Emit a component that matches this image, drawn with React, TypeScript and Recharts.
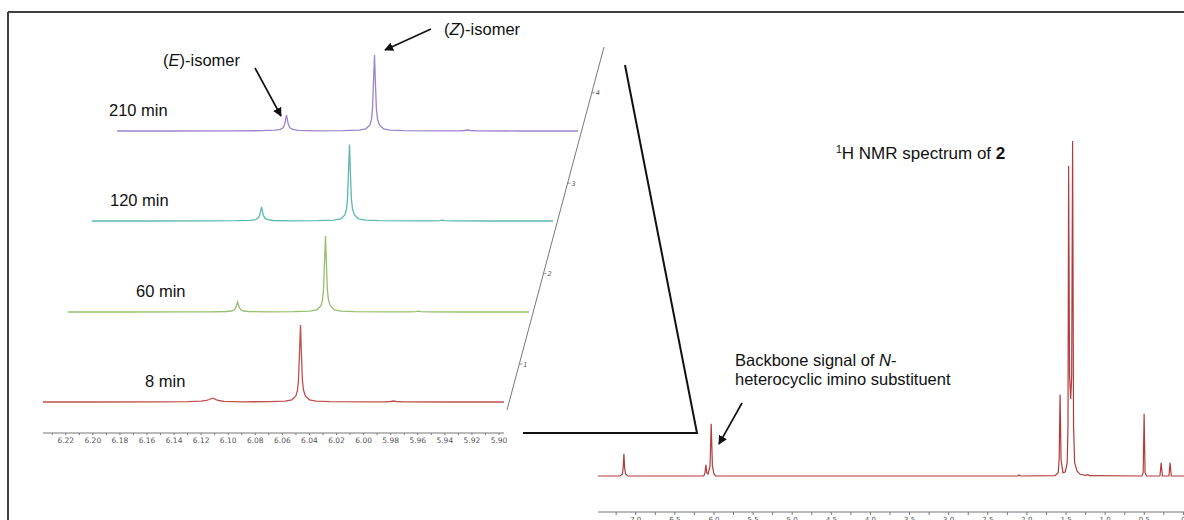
import React from 'react';
import { LineChart, Line, XAxis, YAxis } from 'recharts';

// ---- Zoomed stacked spectra (ppm grid shared by all four traces) ----
const shiftPpm = [
  6.2368, 6.2, 6.15, 6.13, 6.12, 6.116, 6.114, 6.113, 6.1123, 6.1116, 6.1109, 6.1102, 6.109, 6.107, 6.103,
  6.09, 6.07, 6.058, 6.053, 6.05, 6.0488, 6.0481, 6.0474, 6.0466, 6.0459, 6.0452, 6.0444, 6.043, 6.04,
  6.035, 6.025, 6.0, 5.985, 5.98, 5.978, 5.976, 5.97, 5.94, 5.8963,
];
const int8min = [
  0, 0, 0.1, 0.3, 0.8, 1.6, 2.5, 3.1, 3.5, 3.8, 3.5, 3.1, 2.4, 1.5, 0.6,
  0.2, 0.3, 0.8, 2.2, 6, 12, 22, 47, 77, 47, 22, 12, 6, 2.2,
  0.8, 0.3, 0.1, 0.1, 0.5, 1, 0.5, 0.1, 0, 0,
];
const int60min = [
  0, 0, 0.1, 0.2, 0.5, 1, 2.2, 4, 7, 10, 7, 4, 2, 1, 0.4,
  0.1, 0.3, 0.8, 2.2, 6, 12, 22, 47, 76, 47, 22, 12, 6, 2.2,
  0.8, 0.3, 0.1, 0.1, 0.4, 0.8, 0.4, 0.1, 0, 0,
];
const int120min = [
  0, 0, 0.1, 0.3, 0.7, 1.4, 3.1, 5.6, 9.8, 14, 9.8, 5.6, 2.8, 1.4, 0.5,
  0.2, 0.3, 0.8, 2.2, 6, 12, 22, 47, 76.5, 47, 22, 12, 6, 2.2,
  0.8, 0.3, 0.1, 0.1, 0.4, 0.8, 0.4, 0.1, 0, 0,
];
const int210min = [
  0, 0, 0.1, 0.3, 0.8, 1.6, 3.5, 6.4, 11, 16, 11, 6.4, 3.2, 1.6, 0.6,
  0.2, 0.3, 0.8, 2.2, 6, 12, 22, 47, 76, 47, 22, 12, 6, 2.2,
  0.8, 0.3, 0.1, 0.1, 0.5, 1, 0.5, 0.1, 0, 0,
];
const traceLabels = ['8 min', '60 min', '120 min', '210 min'];
const traceLabelX = [145, 136, 110, 109];
const traceColors = ['#c0504d', '#94bf6e', '#5bb8b2', '#9c84cc'];
const stackTickLabels = ['1', '2', '3', '4'];
const zoomTicks = [
  6.23, 6.22, 6.21, 6.2, 6.19, 6.18, 6.17, 6.16, 6.15, 6.14, 6.13, 6.12, 6.11, 6.1, 6.09, 6.08, 6.07,
  6.06, 6.05, 6.04, 6.03, 6.02, 6.01, 6.0, 5.99, 5.98, 5.97, 5.96, 5.95, 5.94, 5.93, 5.92, 5.91, 5.9,
];

// ---- Full 1H NMR spectrum ----
const fullPpm = [
  7.482, 7.2, 7.17, 7.16, 7.151, 7.142, 7.13, 7.1,
  6.13, 6.115, 6.103, 6.092, 6.075, 6.05, 6.035, 6.02, 6.0, 5.98,
  2.12, 2.1, 2.08,
  1.64, 1.6, 1.588, 1.576, 1.564, 1.54, 1.51, 1.485, 1.475, 1.467, 1.455, 1.44, 1.428, 1.416, 1.404, 1.39, 1.36, 1.32, 1.25, 1.22, 1.2,
  0.53, 0.514, 0.502, 0.49, 0.47,
  0.3, 0.284, 0.268,
  0.185, 0.17, 0.155,
  -0.34,
];
const fullInt = [
  0, 0, 0.6, 2.5, 6.6, 2.5, 0.6, 0,
  0, 1, 3.3, 1, 0.6, 3, 15.6, 3, 0.6, 0,
  0, 0.3, 0,
  0.1, 1, 5, 24.3, 5, 1, 1.2, 4, 15, 92.5, 30, 23, 30, 100, 15, 4, 1.5, 0.5, 0.2, 0.4, 0.1,
  0, 1, 18.6, 1, 0,
  0, 3.9, 0,
  0, 3.9, 0,
  0,
];
const fullTicks = [
  7.25, 7.0, 6.75, 6.5, 6.25, 6.0, 5.75, 5.5, 5.25, 5.0, 4.75, 4.5, 4.25, 4.0, 3.75, 3.5, 3.25, 3.0,
  2.75, 2.5, 2.25, 2.0, 1.75, 1.5, 1.25, 1.0, 0.75, 0.5, 0.25, 0.0, -0.25,
];

const traceIntensities = [int8min, int60min, int120min, int210min];
const traceData = traceIntensities.map((arr) => shiftPpm.map((p, i) => ({ ppm: p, v: arr[i] })));
const fullData = fullPpm.map((p, i) => ({ ppm: p, v: fullInt[i] }));

const ZOOM_DOMAIN: [number, number] = [5.8963, 6.2368];
const FULL_DOMAIN: [number, number] = [-0.34, 7.482];

const FONT = '"Liberation Sans", Arial, sans-serif';
const TICK_FONT = '"DejaVu Sans", Verdana, sans-serif';
const LABEL_SIZE = 16.5;

const STACK_DX = 24.6;
const STACK_DY = 90.4;
const BASE_LEFT = 43;
const BASE_Y = 402;

export default function App() {
  const axisStart = { x: 507, y: 410 };
  const axisEnd = { x: 604, y: 47 };
  const slope = (axisEnd.x - axisStart.x) / (axisStart.y - axisEnd.y);
  return (
    <div
      style={{
        position: 'absolute', left: 0, top: 0, width: 1184, height: 520,
        overflow: 'hidden', background: '#fff', fontFamily: FONT,
      }}
    >
      {traceData.map((data, i) => {
        const left = BASE_LEFT + STACK_DX * i;
        const baseline = BASE_Y - STACK_DY * i;
        const withAxis = i === 0;
        return (
          <div key={i} style={{ position: 'absolute', left, top: baseline - 85 }}>
            <LineChart
              width={475}
              height={withAxis ? 136 : 90}
              data={data}
              margin={{ top: 5, right: 14, bottom: withAxis ? 0 : 5, left: 0 }}
            >
              <XAxis
                type="number"
                dataKey="ppm"
                domain={ZOOM_DOMAIN}
                reversed
                hide={!withAxis}
                height={20}
                ticks={zoomTicks}
                interval={0}
                allowDataOverflow
                tickSize={2}
                tickMargin={3}
                stroke="#777"
                tickLine={{ stroke: '#777' }}
                tick={{ fontSize: 7.5, fill: '#555', fontFamily: TICK_FONT }}
                tickFormatter={(v: number) => (Math.round(v * 100) % 2 === 0 ? v.toFixed(2) : '')}
              />
              <YAxis hide domain={withAxis ? [-31, 80] : [0, 80]} />
              <Line
                type="linear"
                dataKey="v"
                stroke={traceColors[i]}
                strokeWidth={1.3}
                dot={false}
                isAnimationActive={false}
              />
            </LineChart>
          </div>
        );
      })}

      <div style={{ position: 'absolute', left: 598, top: 141 }}>
        <LineChart width={612} height={391} data={fullData} margin={{ top: 0, right: 0, bottom: 0, left: 0 }}>
          <XAxis
            type="number"
            dataKey="ppm"
            domain={FULL_DOMAIN}
            reversed
            height={20}
            ticks={fullTicks}
            interval={0}
            allowDataOverflow
            tickSize={3}
            tickMargin={2}
            stroke="#777"
            tickLine={{ stroke: '#777' }}
            tick={{ fontSize: 7, fill: '#555', fontFamily: TICK_FONT }}
            tickFormatter={(v: number) => (Math.abs((v * 2) % 1) < 1e-6 ? (v === 0 ? '0' : v.toFixed(1)) : '')}
          />
          <YAxis hide domain={[-10.75, 100]} />
          <Line type="linear" dataKey="v" stroke="#b23b3b" strokeWidth={1.2} dot={false} isAnimationActive={false} />
        </LineChart>
      </div>

      <svg
        width={1184}
        height={520}
        style={{ position: 'absolute', left: 0, top: 0, pointerEvents: 'none' }}
      >
        <defs>
          <marker id="ah" viewBox="0 0 10 10" refX="9" refY="5" markerWidth="9" markerHeight="9"
            markerUnits="userSpaceOnUse" orient="auto">
            <path d="M0,0 L10,5 L0,10 z" fill="#111" />
          </marker>
        </defs>
        {/* frame */}
        <line x1={8} y1={12} x2={1184} y2={12} stroke="#404040" strokeWidth={2} />
        <line x1={8} y1={12} x2={8} y2={520} stroke="#404040" strokeWidth={2} />

        {/* oblique stacking axis */}
        <line x1={axisStart.x} y1={axisStart.y} x2={axisEnd.x} y2={axisEnd.y} stroke="#777" strokeWidth={1} />
        {stackTickLabels.map((lab, i) => {
          const y = BASE_Y - 38 - STACK_DY * i;
          const x = axisStart.x + (axisStart.y - y) * slope;
          return (
            <g key={lab}>
              <line x1={x} y1={y} x2={x + 3} y2={y} stroke="#777" strokeWidth={0.8} />
              <text x={x + 4} y={y + 2.5} fontSize={6.5} fontStyle="italic" fill="#555" fontFamily={TICK_FONT}>
                {lab}
              </text>
            </g>
          );
        })}

        {/* zoom connector */}
        <polyline points="625,65 697,433 523,433" fill="none" stroke="#111" strokeWidth={2} />

        {/* trace labels */}
        {traceLabels.map((lab, i) => (
          <text key={lab} x={traceLabelX[i]} y={BASE_Y - 15 - STACK_DY * i} fontSize={LABEL_SIZE} fill="#111" fontFamily={FONT}>
            {lab}
          </text>
        ))}

        {/* isomer annotations */}
        <text x={163} y={66} fontSize={LABEL_SIZE} fill="#111" fontFamily={FONT}>
          (<tspan fontStyle="italic">E</tspan>)-isomer
        </text>
        <line x1={255} y1={68} x2={281} y2={116} stroke="#111" strokeWidth={1.6} markerEnd="url(#ah)" />
        <text x={444} y={35} fontSize={LABEL_SIZE} fill="#111" fontFamily={FONT}>
          (<tspan fontStyle="italic">Z</tspan>)-isomer
        </text>
        <line x1={431} y1={29} x2={385} y2={50} stroke="#111" strokeWidth={1.6} markerEnd="url(#ah)" />

        {/* full spectrum annotations */}
        <text x={836} y={159} fontSize={17} fill="#111" fontFamily={FONT}>
          <tspan fontSize={10.5} dy={-6}>1</tspan>
          <tspan dy={6}>H NMR spectrum of </tspan>
          <tspan fontWeight="bold">2</tspan>
        </text>
        <text x={735} y={366} fontSize={LABEL_SIZE} fill="#111" fontFamily={FONT}>
          Backbone signal of <tspan fontStyle="italic">N</tspan>-
        </text>
        <text x={735} y={385} fontSize={LABEL_SIZE} fill="#111" fontFamily={FONT}>
          heterocyclic imino substituent
        </text>
        <line x1={742} y1={403} x2={719} y2={444} stroke="#111" strokeWidth={1.6} markerEnd="url(#ah)" />
      </svg>
    </div>
  );
}
